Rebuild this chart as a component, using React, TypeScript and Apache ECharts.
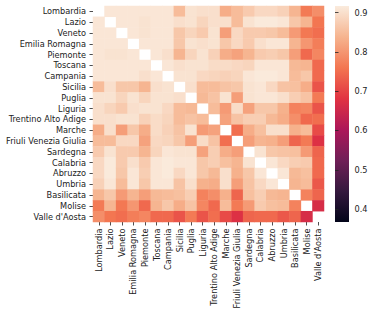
import React, { useEffect, useRef } from "react";
import * as echarts from "echarts";

const regions = [
  "Lombardia", "Lazio", "Veneto", "Emilia Romagna", "Piemonte", "Toscana", "Campania",
  "Sicilia", "Puglia", "Liguria", "Trentino Alto Adige", "Marche", "Friuli Venezia Giulia",
  "Sardegna", "Calabria", "Abruzzo", "Umbria", "Basilicata", "Molise", "Valle d'Aosta",
];

// upper triangle of the correlation matrix: each row holds values for the columns after the diagonal
const lombardia = [0.91, 0.91, 0.91, 0.91, 0.91, 0.91, 0.85, 0.905, 0.9, 0.9, 0.83, 0.85, 0.87, 0.89, 0.89, 0.88, 0.84, 0.765, 0.79];
const lazio = [0.91, 0.91, 0.905, 0.91, 0.91, 0.9, 0.905, 0.885, 0.9, 0.9, 0.85, 0.905, 0.915, 0.915, 0.91, 0.865, 0.84, 0.76];
const veneto = [0.91, 0.905, 0.91, 0.91, 0.865, 0.885, 0.87, 0.905, 0.81, 0.89, 0.87, 0.87, 0.865, 0.85, 0.805, 0.763, 0.75];
const emiliaRomagna = [0.91, 0.91, 0.91, 0.865, 0.905, 0.9, 0.905, 0.865, 0.89, 0.87, 0.9, 0.91, 0.91, 0.84, 0.8, 0.77];
const piemonte = [0.91, 0.9, 0.84, 0.885, 0.905, 0.88, 0.83, 0.815, 0.84, 0.87, 0.875, 0.865, 0.81, 0.745, 0.78];
const toscana = [0.91, 0.9, 0.905, 0.905, 0.895, 0.895, 0.89, 0.885, 0.91, 0.91, 0.91, 0.845, 0.84, 0.745];
const campania = [0.905, 0.905, 0.89, 0.885, 0.88, 0.885, 0.91, 0.915, 0.915, 0.91, 0.85, 0.865, 0.745];
const sicilia = [0.9, 0.85, 0.85, 0.86, 0.865, 0.905, 0.91, 0.89, 0.86, 0.855, 0.83, 0.72];
const puglia = [0.845, 0.86, 0.905, 0.81, 0.905, 0.91, 0.91, 0.9, 0.875, 0.86, 0.765];
const liguria = [0.85, 0.805, 0.895, 0.815, 0.865, 0.865, 0.835, 0.775, 0.78, 0.72];
const trentino = [0.815, 0.86, 0.875, 0.875, 0.845, 0.83, 0.79, 0.745, 0.75];
const marche = [0.75, 0.83, 0.855, 0.9, 0.9, 0.835, 0.85, 0.71];
const friuli = [0.81, 0.84, 0.835, 0.81, 0.74, 0.765, 0.675];
const sardegna = [0.905, 0.865, 0.86, 0.855, 0.805, 0.74];
const calabria = [0.91, 0.89, 0.875, 0.87, 0.745];
const abruzzo = [0.91, 0.845, 0.855, 0.745];
const umbria = [0.84, 0.85, 0.725];
const basilicata = [0.775, 0.74];
const molise = [0.665];

const upperRows = [
  lombardia, lazio, veneto, emiliaRomagna, piemonte, toscana, campania, sicilia, puglia,
  liguria, trentino, marche, friuli, sardegna, calabria, abruzzo, umbria, basilicata, molise,
];

const colorTicks = [0.4, 0.5, 0.6, 0.7, 0.8, 0.9];
const vMin = 0.367;
const vMax = 0.917;
const rocket = ["#03051a", "#35193e", "#701f57", "#ad1759", "#e13342", "#f37651", "#f6b48f", "#faebdd"];

const FONT = "DejaVu Sans";
const TXT = "#222";
const FS = 8.2;

export default function App() {
  const ref = useRef<HTMLDivElement>(null);
  useEffect(() => {
    const chart = echarts.init(ref.current as HTMLDivElement, null, { renderer: "svg" });
    const data: [number, number, number][] = [];
    upperRows.forEach((row, i) => {
      row.forEach((v, k) => {
        const j = i + 1 + k;
        data.push([j, i, v]);
        data.push([i, j, v]);
      });
    });
    const cbLeft = 335, cbTop = 6, cbW = 14, cbH = 216;
    chart.setOption({
      animation: false,
      backgroundColor: "#fff",
      grid: [
        { left: 93, top: 6, width: 231, height: 216, outerBoundsMode: "none" },
        { left: cbLeft, top: cbTop, width: cbW, height: cbH, outerBoundsMode: "none" },
      ],
      xAxis: [
        {
          type: "category",
          data: regions,
          gridIndex: 0,
          position: "bottom",
          axisLine: { show: false },
          axisTick: { show: true, alignWithLabel: true, length: 3.5, lineStyle: { color: TXT, width: 0.8 } },
          axisLabel: { rotate: 90, interval: 0, fontSize: FS, fontFamily: FONT, color: TXT, margin: 6.5 },
          splitLine: { show: false },
        },
        { type: "value", gridIndex: 1, show: false, min: 0, max: 1 },
      ],
      yAxis: [
        {
          type: "category",
          data: regions,
          inverse: true,
          gridIndex: 0,
          axisLine: { show: false },
          axisTick: { show: true, alignWithLabel: true, length: 3.5, lineStyle: { color: TXT, width: 0.8 } },
          axisLabel: { interval: 0, fontSize: FS, fontFamily: FONT, color: TXT, margin: 7 },
          splitLine: { show: false },
        },
        {
          type: "value",
          gridIndex: 1,
          position: "right",
          min: vMin,
          max: vMax,
          axisLine: { show: false },
          splitLine: { show: false },
          axisTick: { show: true, length: 3.5, customValues: colorTicks, lineStyle: { color: TXT, width: 0.8 } },
          axisLabel: {
            customValues: colorTicks,
            fontSize: FS,
            fontFamily: FONT,
            color: TXT,
            margin: 5.5,
            formatter: (v: number) => v.toFixed(1),
          },
        },
      ],
      visualMap: {
        show: false,
        type: "continuous",
        min: vMin,
        max: vMax,
        dimension: 2,
        seriesIndex: 0,
        inRange: { color: rocket },
      },
      graphic: [
        {
          type: "rect",
          left: cbLeft,
          top: cbTop,
          shape: { width: cbW, height: cbH },
          z: -1,
          style: {
            fill: new echarts.graphic.LinearGradient(0, 1, 0, 0,
              rocket.map((c, i) => ({ offset: i / (rocket.length - 1), color: c }))),
          },
        },
      ],
      series: [
        {
          type: "heatmap",
          xAxisIndex: 0,
          yAxisIndex: 0,
          data,
          itemStyle: { borderWidth: 0 },
          emphasis: { disabled: true },
        },
      ],
    });
    return () => chart.dispose();
  }, []);
  return (
    <div
      ref={ref}
      style={{ position: "fixed", left: 0, top: 0, width: 374, height: 314, background: "#fff" }}
    />
  );
}
